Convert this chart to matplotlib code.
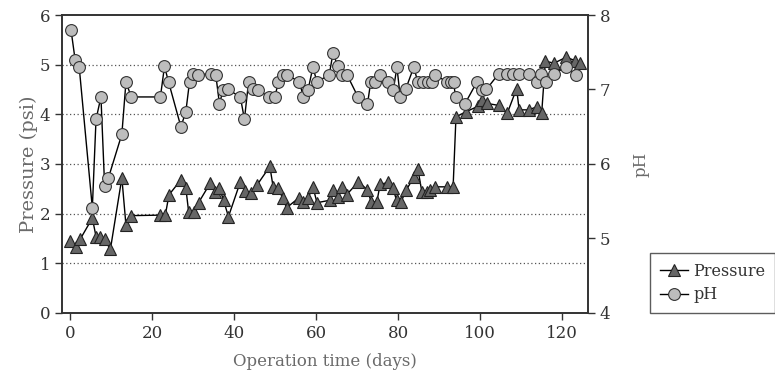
import matplotlib
matplotlib.use("Agg")
import matplotlib.pyplot as plt

# pressure readings (psi) vs operation day
p_days = [0.0, 1.3, 2.4, 5.4, 6.3, 7.3, 8.4, 9.8, 12.6, 13.6, 14.9,
          21.8, 23.2, 24.1, 27.0, 28.2, 28.9, 30.3, 31.3, 34.2, 35.4,
          36.4, 37.4, 38.6, 41.5, 42.6, 44.2, 45.6, 48.7, 49.5, 50.8,
          51.8, 52.8, 55.8, 56.9, 58.0, 59.2, 60.2, 63.3, 64.0, 65.4,
          66.3, 67.4, 70.3, 72.5, 73.4, 74.8, 75.6, 77.6, 78.7, 79.6,
          80.7, 82.0, 83.8, 84.8, 85.8, 87.0, 87.8, 89.0, 91.9, 93.4,
          94.1, 96.5, 99.4, 100.5, 101.6, 104.5, 106.6, 108.9, 109.5,
          111.8, 113.8, 115.0, 115.9, 118.0, 121.0, 123.2, 124.4]
pressure = [1.44, 1.32, 1.48, 1.91, 1.54, 1.52, 1.48, 1.28, 2.72, 1.77, 1.96,
            1.97, 1.97, 2.38, 2.68, 2.52, 2.03, 2.03, 2.22, 2.62, 2.43,
            2.52, 2.27, 1.94, 2.64, 2.45, 2.42, 2.58, 2.95, 2.54, 2.52,
            2.31, 2.12, 2.32, 2.24, 2.31, 2.54, 2.22, 2.27, 2.48, 2.33,
            2.54, 2.38, 2.64, 2.48, 2.24, 2.24, 2.59, 2.63, 2.52, 2.27,
            2.24, 2.48, 2.73, 2.90, 2.43, 2.44, 2.48, 2.54, 2.54, 2.54,
            3.95, 4.05, 4.16, 4.29, 4.22, 4.18, 4.02, 4.52, 4.09,
            4.09, 4.15, 4.02, 5.07, 5.03, 5.15, 5.08, 5.03]

# pH readings vs operation day
ph_days = [0.2, 1.2, 2.2, 5.4, 6.3, 7.5, 8.4, 9.3, 12.6, 13.6, 14.9,
           22.0, 23.0, 24.0, 27.0, 28.2, 29.1, 29.9, 31.1, 34.3, 35.5,
           36.4, 37.3, 38.5, 41.5, 42.5, 43.5, 44.6, 45.8, 48.6, 49.9,
           50.8, 51.9, 52.9, 55.9, 56.9, 58.0, 59.2, 60.2, 63.2, 64.1,
           65.3, 66.4, 67.5, 70.2, 72.5, 73.3, 74.4, 75.6, 77.6, 78.8,
           79.7, 80.5, 81.8, 83.8, 84.8, 86.0, 87.2, 88.2, 89.0, 91.9,
           92.9, 93.5, 94.0, 96.3, 99.2, 100.5, 101.5, 104.5, 106.6,
           108.0, 109.5, 111.8, 113.8, 114.8, 116.0, 117.9, 120.9, 123.3]
ph = [7.80, 7.40, 7.30, 5.41, 6.60, 6.90, 5.70, 5.81, 6.40, 7.10, 6.90,
      6.90, 7.31, 7.10, 6.50, 6.70, 7.10, 7.21, 7.20, 7.21, 7.20,
      6.81, 6.99, 7.00, 6.90, 6.60, 7.10, 7.00, 6.99, 6.90, 6.90,
      7.10, 7.20, 7.20, 7.10, 6.90, 6.99, 7.30, 7.10, 7.20, 7.49,
      7.31, 7.20, 7.20, 6.90, 6.80, 7.10, 7.10, 7.20, 7.10, 6.99,
      7.30, 6.90, 7.00, 7.30, 7.10, 7.10, 7.10, 7.10, 7.20, 7.10,
      7.10, 7.10, 6.90, 6.81, 7.10, 6.99, 7.00, 7.21, 7.21,
      7.21, 7.21, 7.21, 7.10, 7.21, 7.10, 7.21, 7.30, 7.20]

plt.rcParams['font.family'] = ['DejaVu Serif']
txt = '#333333'
lab = '#6a6a6a'

fig = plt.figure(figsize=(7.75, 3.76), dpi=100)
ax = fig.add_axes([0.080, 0.1676, 0.6787, 0.7925])
ax2 = ax.twinx()

l1, = ax.plot(p_days, pressure, color='black', lw=1, marker='^', ms=9,
              mfc='#666666', mec='#222222', mew=0.8, label='Pressure')
l2, = ax2.plot(ph_days, ph, color='black', lw=1, marker='o', ms=8.5,
               mfc='#bdbdbd', mec='#333333', mew=0.8, label='pH')

ax.set_xlim(-2, 126.3)
ax.set_ylim(0, 6)
ax2.set_ylim(4, 8)
ax.set_xticks(range(0, 121, 20))
ax.set_yticks(range(0, 7))
ax2.set_yticks(range(4, 9))

for y in range(1, 6):
    ax.axhline(y, color='#555555', lw=0.9, ls=(0, (1, 2)), zorder=0)

for a in (ax, ax2):
    a.tick_params(direction='out', length=5, width=1, labelsize=12,
                  labelcolor=txt, color='#333333')
    for s in a.spines.values():
        s.set_color('#333333')
        s.set_linewidth(1.2)

ax.set_xlabel('Operation time (days)', fontsize=12, color=lab, labelpad=8)
ax.set_ylabel('Pressure (psi)', fontsize=14, color=lab, labelpad=1)
ax2.set_ylabel('pH', fontsize=12, color=lab, labelpad=16)

leg = fig.legend(handles=[l1, l2], loc='lower left',
                 bbox_to_anchor=(650 / 775, 63 / 376), frameon=True,
                 fancybox=False, fontsize=11.5, handlelength=1.8,
                 borderpad=0.6, labelspacing=0.4, handletextpad=0.3,
                 borderaxespad=0)
leg.get_frame().set_edgecolor('#333333')
leg.get_frame().set_linewidth(1)
for t in leg.get_texts():
    t.set_color(txt)

fig.savefig('out.png', dpi=100)
